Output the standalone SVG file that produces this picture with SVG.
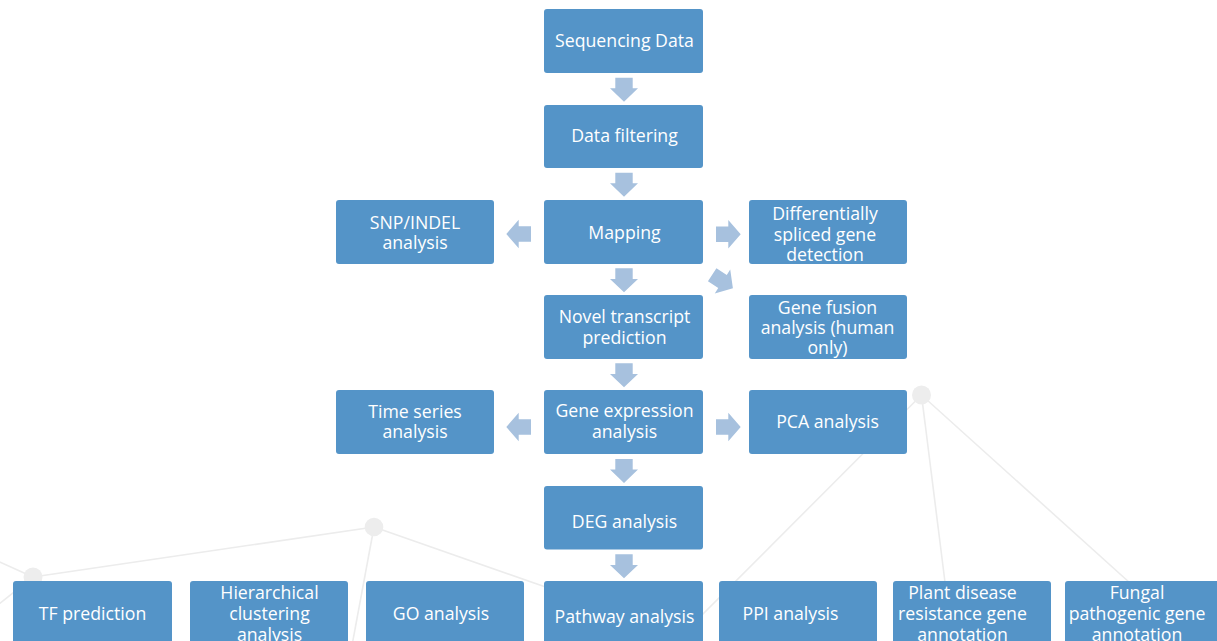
<svg xmlns="http://www.w3.org/2000/svg" xmlns:xlink="http://www.w3.org/1999/xlink" width="1217" height="641" viewBox="0 0 1217 641">
<style>
.bg-line{stroke:#ECECEC;stroke-width:1.6;fill:none}
.bg-dot{fill:#EDEDED}
.box{fill:#5494C8}
.lbl{font-family:"Open Sans","Liberation Sans",Arial,sans-serif;font-size:17.7px;fill:#FFFFFF;text-anchor:middle}
.arr{fill:#A7C1DE}
</style>
<defs>
<path id="arrow-down" d="M-8.7 0H8.7V10.6H14L0 24L-14 10.6H-8.7Z"/>
<path id="arrow-right" d="M0 -7.8H12.3V-14.2L24.7 0L12.3 14.2V7.8H0Z"/>
<path id="arrow-left" d="M0 -7.8H-12.3V-14.2L-24.7 0L-12.3 14.2V7.8H0Z"/>
</defs>
<rect width="1217" height="641" fill="#FFFFFF"/>
<g id="background">
<line class="bg-line" x1="-20" y1="553" x2="33" y2="577"/>
<line class="bg-line" x1="33" y1="577" x2="-20" y2="619"/>
<line class="bg-line" x1="33" y1="577" x2="374" y2="527"/>
<line class="bg-line" x1="374" y1="527" x2="340" y2="710"/>
<line class="bg-line" x1="374" y1="527" x2="620" y2="613"/>
<line class="bg-line" x1="921.5" y1="395" x2="660" y2="657"/>
<line class="bg-line" x1="921.5" y1="395" x2="946" y2="590"/>
<line class="bg-line" x1="921.5" y1="395" x2="1140" y2="592"/>
<circle class="bg-dot" cx="33" cy="577" r="9.5"/>
<circle class="bg-dot" cx="374" cy="527" r="9.3"/>
<circle class="bg-dot" cx="921.5" cy="395" r="9.5"/>
</g>
<g id="connectors">
<use class="arr" href="#arrow-down" x="624" y="77.7"/>
<use class="arr" href="#arrow-down" x="624" y="172.7"/>
<use class="arr" href="#arrow-down" x="624" y="268.3"/>
<use class="arr" href="#arrow-down" x="624" y="363.3"/>
<use class="arr" href="#arrow-down" x="624" y="459"/>
<use class="arr" href="#arrow-down" x="624" y="554.3"/>
<use class="arr" href="#arrow-left" x="531" y="234"/>
<use class="arr" href="#arrow-left" x="531" y="427"/>
<use class="arr" href="#arrow-right" x="716" y="234.3"/>
<use class="arr" href="#arrow-right" x="716" y="427"/>
<use class="arr" href="#arrow-right" transform="translate(722.5,281.5) rotate(33) translate(-12.3,0)"/>
</g>
<g id="node-sequencing"><rect class="box" x="544" y="9" width="159" height="64" rx="3"/><text class="lbl" x="624.5" y="46.7">Sequencing Data</text></g>
<g id="node-filtering"><rect class="box" x="544" y="105" width="159" height="63" rx="3"/><text class="lbl" x="624.5" y="142">Data filtering</text></g>
<g id="node-mapping"><rect class="box" x="544" y="200" width="159" height="64" rx="3"/><text class="lbl" x="624.5" y="238.5">Mapping</text></g>
<g id="node-novel"><rect class="box" x="544" y="295" width="159" height="64" rx="3"/><text class="lbl" x="624.5" y="322.5">Novel transcript</text><text class="lbl" x="624.5" y="343.5">prediction</text></g>
<g id="node-expression"><rect class="box" x="544" y="390" width="159" height="64" rx="3"/><text class="lbl" x="624.5" y="417">Gene expression</text><text class="lbl" x="624.5" y="438">analysis</text></g>
<g id="node-deg"><rect class="box" x="544" y="486" width="159" height="63.5" rx="3"/><text class="lbl" x="624.5" y="528">DEG analysis</text></g>
<g id="node-pathway"><rect class="box" x="544" y="581" width="159" height="75" rx="3"/><text class="lbl" x="624.5" y="623">Pathway analysis</text></g>
<g id="node-snp"><rect class="box" x="336" y="200" width="158" height="64" rx="3"/><text class="lbl" x="415" y="228.5">SNP/INDEL</text><text class="lbl" x="415" y="249">analysis</text></g>
<g id="node-timeseries"><rect class="box" x="336" y="390" width="158" height="64" rx="3"/><text class="lbl" x="415" y="417.5">Time series</text><text class="lbl" x="415" y="438">analysis</text></g>
<g id="node-splicing"><rect class="box" x="749" y="200" width="158" height="64" rx="3"/><text class="lbl" x="825" y="220">Differentially</text><text class="lbl" x="825" y="240.7">spliced gene</text><text class="lbl" x="825" y="261">detection</text></g>
<g id="node-fusion"><rect class="box" x="749" y="295" width="158" height="64" rx="3"/><text class="lbl" x="827.5" y="313.5">Gene fusion</text><text class="lbl" x="827.5" y="334">analysis (human</text><text class="lbl" x="827.5" y="354">only)</text></g>
<g id="node-pca"><rect class="box" x="749" y="390" width="158" height="64" rx="3"/><text class="lbl" x="827.5" y="428">PCA analysis</text></g>
<g id="node-tf"><rect class="box" x="13" y="581" width="159" height="75" rx="3"/><text class="lbl" x="92.5" y="620">TF prediction</text></g>
<g id="node-hierarchical"><rect class="box" x="190" y="581" width="158" height="75" rx="3"/><text class="lbl" x="269.5" y="599">Hierarchical</text><text class="lbl" x="269.5" y="620">clustering</text><text class="lbl" x="269.5" y="640.5">analysis</text></g>
<g id="node-go"><rect class="box" x="366" y="581" width="158" height="75" rx="3"/><text class="lbl" x="441" y="620">GO analysis</text></g>
<g id="node-ppi"><rect class="box" x="719" y="581" width="158" height="75" rx="3"/><text class="lbl" x="790.5" y="620">PPI analysis</text></g>
<g id="node-plant"><rect class="box" x="893" y="581" width="158" height="75" rx="3"/><text class="lbl" x="962.5" y="599">Plant disease</text><text class="lbl" x="962.5" y="620">resistance gene</text><text class="lbl" x="962.5" y="640.5">annotation</text></g>
<g id="node-fungal"><rect class="box" x="1065" y="581" width="158" height="75" rx="3"/><text class="lbl" x="1137" y="599">Fungal</text><text class="lbl" x="1137" y="620">pathogenic gene</text><text class="lbl" x="1137" y="640.5">annotation</text></g>
</svg>
